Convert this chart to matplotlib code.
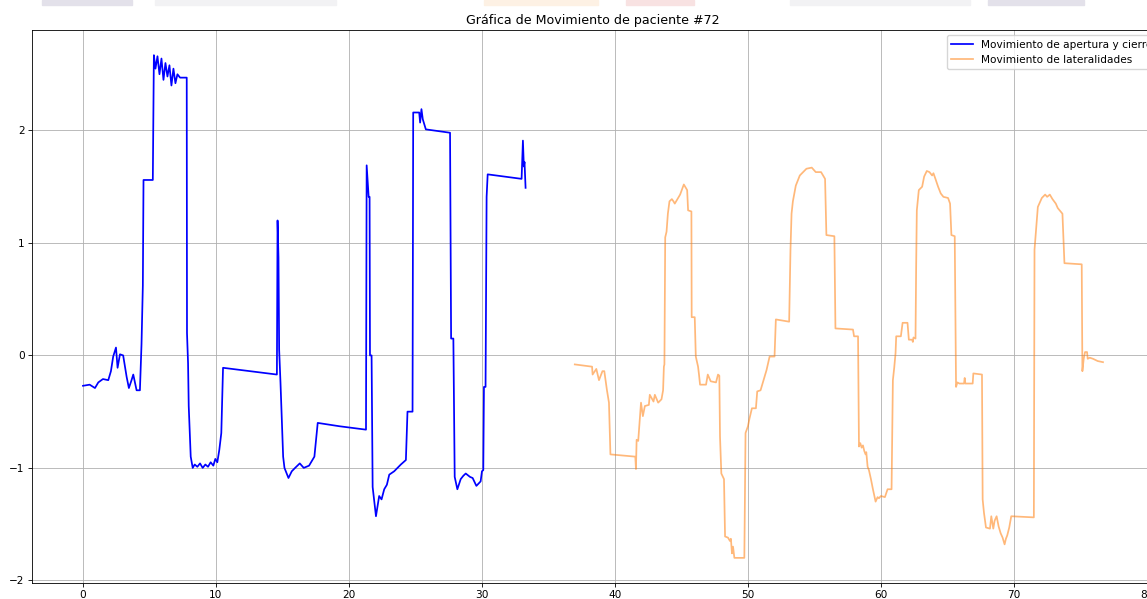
import matplotlib
matplotlib.use("Agg")
import matplotlib.pyplot as plt
from matplotlib.patches import Rectangle

# Movimiento de apertura y cierre (azul)
x_apertura = [0.0, 0.5, 0.9, 1.15, 1.5, 1.9, 2.1, 2.27, 2.48, 2.6, 2.78, 3.02, 3.28, 3.45, 3.65, 3.78,
              4.03, 4.28, 4.4, 4.5, 4.55, 4.65, 5.25, 5.33, 5.45, 5.6, 5.75, 5.9, 6.05, 6.2, 6.35, 6.5,
              6.65, 6.8, 6.95, 7.1, 7.3, 7.8, 7.82, 7.9, 7.95, 8.1, 8.25, 8.4, 8.6, 8.8, 9.0, 9.2, 9.4,
              9.6, 9.8, 9.95, 10.1, 10.25, 10.4, 10.53, 14.58, 14.63, 14.7, 14.75, 14.85, 15.05, 15.15,
              15.45, 15.7, 15.95, 16.3, 16.6, 17.0, 17.4, 17.65, 19.3, 21.28, 21.33, 21.48, 21.55,
              21.58, 21.7, 21.78, 22.03, 22.27, 22.45, 22.65, 22.85, 23.03, 23.4, 23.65, 23.9, 24.28,
              24.4, 24.78, 24.83, 25.28, 25.35, 25.45, 25.55, 25.78, 27.6, 27.68, 27.85, 27.95, 28.15,
              28.4, 28.6, 28.78, 29.1, 29.3, 29.58, 29.9, 30.0, 30.1, 30.15, 30.27, 30.35, 30.43,
              32.98, 33.08, 33.15, 33.2, 33.28]
y_apertura = [-0.27, -0.26, -0.29, -0.24, -0.21, -0.22, -0.14, -0.01, 0.07, -0.11, 0.01, 0.0, -0.19,
              -0.29, -0.22, -0.17, -0.31, -0.31, 0.10, 0.62, 1.56, 1.56, 1.56, 2.67, 2.55, 2.66, 2.50,
              2.64, 2.45, 2.60, 2.48, 2.58, 2.40, 2.55, 2.42, 2.50, 2.47, 2.47, 0.20, -0.07, -0.45,
              -0.90, -1.00, -0.97, -0.99, -0.96, -1.00, -0.97, -0.99, -0.95, -0.98, -0.92, -0.95,
              -0.84, -0.69, -0.11, -0.17, 1.20, 0.87, 0.05, -0.24, -0.90, -1.00, -1.09, -1.03, -1.00,
              -0.96, -1.00, -0.98, -0.90, -0.60, -0.63, -0.66, 1.69, 1.41, 1.41, 0.00, 0.00, -1.17,
              -1.43, -1.25, -1.28, -1.19, -1.15, -1.06, -1.03, -1.00, -0.97, -0.93, -0.50, -0.50,
              2.16, 2.16, 2.07, 2.19, 2.10, 2.01, 1.98, 0.15, 0.15, -1.08, -1.19, -1.10, -1.07,
              -1.05, -1.08, -1.09, -1.16, -1.12, -1.03, -1.02, -0.28, -0.28, 1.41, 1.61, 1.57, 1.91,
              1.68, 1.72, 1.49]

# Movimiento de lateralidades (naranja)
x_lateral = [36.98, 38.28, 38.32, 38.6, 38.8, 39.06, 39.2, 39.4, 39.55, 39.66, 41.53, 41.58, 41.63,
             41.75, 41.96, 42.1, 42.25, 42.55, 42.62, 42.9, 43.0, 43.25, 43.5, 43.62, 43.68, 43.72,
             43.78, 43.88, 43.98, 44.1, 44.28, 44.4, 44.5, 44.75, 44.9, 45.18, 45.43, 45.5, 45.75,
             45.77, 46.0, 46.08, 46.25, 46.32, 46.4, 46.85, 46.98, 47.2, 47.6, 47.75, 47.85, 47.9,
             48.0, 48.2, 48.28, 48.5, 48.65, 48.72, 48.8, 48.88, 48.98, 49.73, 49.82, 50.0, 50.12,
             50.3, 50.6, 50.7, 50.95, 51.1, 51.25, 51.4, 51.63, 52.0, 52.1, 53.1, 53.2, 53.28, 53.38,
             53.6, 53.9, 54.15, 54.4, 54.8, 55.1, 55.5, 55.8, 55.9, 56.5, 56.58, 57.9, 57.98, 58.28,
             58.35, 58.45, 58.55, 58.65, 58.75, 58.85, 58.9, 59.0, 59.1, 59.25, 59.4, 59.6, 59.75,
             59.85, 60.0, 60.3, 60.5, 60.8, 60.9, 61.0, 61.1, 61.15, 61.5, 61.63, 62.0, 62.1, 62.35,
             62.4, 62.45, 62.6, 62.65, 62.7, 62.85, 63.1, 63.25, 63.45, 63.65, 63.85, 63.95, 64.1,
             64.3, 64.5, 64.7, 65.05, 65.2, 65.3, 65.55, 65.65, 65.75, 65.9, 66.25, 66.3, 66.35,
             66.9, 66.95, 67.6, 67.65, 67.75, 67.9, 68.2, 68.3, 68.45, 68.55, 68.7, 68.85, 69.0,
             69.15, 69.3, 69.4, 69.5, 69.65, 69.8, 71.5, 71.55, 71.7, 71.8, 72.1, 72.35, 72.5, 72.7,
             72.9, 73.15, 73.3, 73.65, 73.8, 75.1, 75.15, 75.25, 75.35, 75.5, 75.55, 75.7, 75.95,
             76.3, 76.7]
y_lateral = [-0.08, -0.10, -0.17, -0.12, -0.22, -0.14, -0.14, -0.31, -0.42, -0.88, -0.90, -1.01,
             -0.75, -0.76, -0.42, -0.54, -0.45, -0.44, -0.35, -0.41, -0.35, -0.42, -0.39, -0.31,
             -0.10, -0.08, 1.05, 1.10, 1.26, 1.37, 1.39, 1.37, 1.35, 1.40, 1.43, 1.52, 1.47, 1.29,
             1.28, 0.34, 0.34, -0.01, -0.10, -0.17, -0.26, -0.26, -0.17, -0.23, -0.24, -0.17,
             -0.18, -0.72, -1.05, -1.10, -1.61, -1.62, -1.65, -1.63, -1.76, -1.70, -1.80, -1.80,
             -0.69, -0.63, -0.56, -0.47, -0.47, -0.32, -0.31, -0.25, -0.19, -0.13, -0.01, -0.01,
             0.32, 0.30, 0.94, 1.26, 1.37, 1.51, 1.60, 1.63, 1.66, 1.67, 1.63, 1.63, 1.57, 1.07,
             1.06, 0.24, 0.23, 0.17, 0.17, -0.81, -0.78, -0.82, -0.80, -0.85, -0.88, -0.86, -0.99,
             -1.02, -1.10, -1.19, -1.30, -1.26, -1.27, -1.25, -1.26, -1.19, -1.19, -0.22, -0.11,
             0.02, 0.17, 0.17, 0.29, 0.29, 0.14, 0.14, 0.12, 0.16, 0.15, 0.79, 1.29, 1.47, 1.50,
             1.59, 1.64, 1.63, 1.60, 1.62, 1.57, 1.50, 1.44, 1.41, 1.40, 1.35, 1.07, 1.06, -0.28,
             -0.24, -0.25, -0.25, -0.20, -0.25, -0.25, -0.16, -0.17, -1.28, -1.40, -1.53, -1.54,
             -1.43, -1.54, -1.47, -1.43, -1.52, -1.58, -1.62, -1.68, -1.63, -1.60, -1.53, -1.43,
             -1.44, 0.94, 1.17, 1.32, 1.40, 1.43, 1.41, 1.43, 1.39, 1.35, 1.31, 1.26, 0.82, 0.81,
             -0.14, -0.03, 0.03, 0.03, -0.03, -0.02, -0.03, -0.05, -0.06]

titulo = "Gráfica de Movimiento de paciente #72"
etiquetas = ["Movimiento de apertura y cierre", "Movimiento de lateralidades"]

# la captura original esta reducida, asi que todo va un poco mas chico
k = 0.76
plt.rcParams.update({
    "font.size": 10 * k,
    "axes.titlesize": 12 * k,
    "lines.linewidth": 1.5 * k,
    "grid.linewidth": 0.8 * k,
    "axes.linewidth": 0.8 * k,
    "xtick.major.size": 3.5 * k,
    "ytick.major.size": 3.5 * k,
    "xtick.major.width": 0.8 * k,
    "ytick.major.width": 0.8 * k,
    "xtick.major.pad": 3.5 * k,
    "ytick.major.pad": 3.5 * k,
    "axes.titlepad": 6 * k,
})

fig = plt.figure(figsize=(11.47, 5.99), dpi=100)

# franjas de la pagina que quedaron en la captura
franjas = [(42, 90, "#e3e1ea"), (155, 181, "#f2f2f4"), (484, 114, "#fdf1e4"),
           (626, 68, "#f8e2e2"), (790, 180, "#f2f2f4"), (988, 96, "#e3e1ea")]
for x0, w, c in franjas:
    fig.patches.append(Rectangle((x0 / 1147, 1 - 5 / 599), w / 1147, 5 / 599,
                                 transform=fig.transFigure, color=c, zorder=0))

ax = fig.add_axes([32 / 1147, 16 / 599, 1122 / 1147, 553 / 599])
ax.plot(x_apertura, y_apertura, color="blue", lw=1.25, label=etiquetas[0])
ax.plot(x_lateral, y_lateral, color="tab:orange", alpha=0.55, lw=1.25, label=etiquetas[1])
ax.set_title(titulo)
ax.grid(True)
ax.legend(loc="upper right", bbox_to_anchor=(1.007, 1.0))

fig.savefig("out.png", dpi=100)
